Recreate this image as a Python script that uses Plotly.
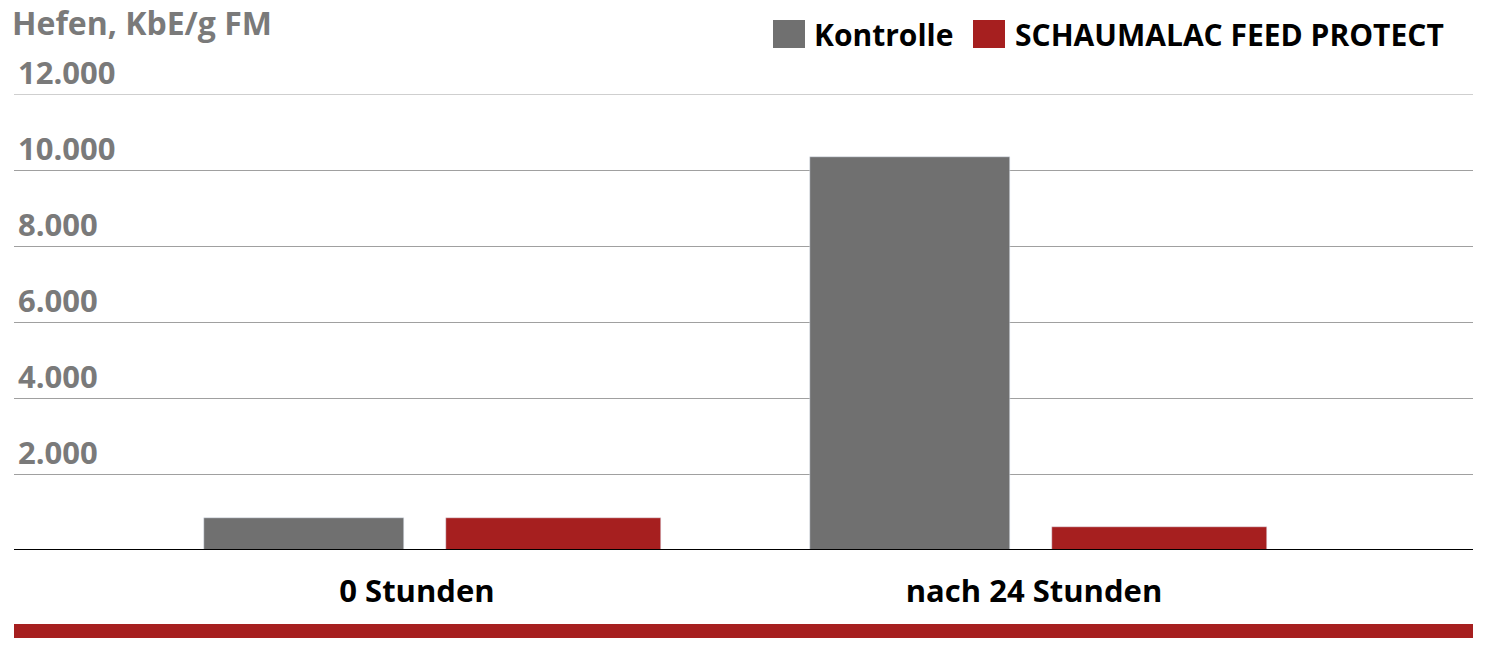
import plotly.graph_objects as go

categories = ["0 Stunden", "nach 24 Stunden"]
kontrolle = [840, 10350]
schaumalac = [830, 600]
y_ticks = [2000, 4000, 6000, 8000, 10000, 12000]
y_tick_labels = ["2.000", "4.000", "6.000", "8.000", "10.000", "12.000"]
series_names = ["Kontrolle", "SCHAUMALAC FEED PROTECT"]

GRAY = "#707070"
RED = "#a61f1f"
FONT = "Open Sans"

# group centres on a pixel-like numeric axis
group_x = [418, 1024]
label_x = [403, 1020]

fig = go.Figure()
fig.add_trace(go.Bar(x=[g - 128 for g in group_x], y=kontrolle, width=200,
                     marker_color=GRAY, name=series_names[0]))
fig.add_trace(go.Bar(x=[g + 121 for g in group_x], y=schaumalac, width=215,
                     marker_color=RED, name=series_names[1]))

for v, t in zip(y_ticks, y_tick_labels):
    fig.add_annotation(x=0, xref="paper", y=v, yref="y", text=t, showarrow=False,
                       xanchor="left", yanchor="bottom", xshift=2, yshift=-1,
                       font=dict(family=FONT, size=31, color="#7a7a7a", weight="bold"))

fig.add_annotation(x=0, xref="paper", y=1, yref="paper", yshift=72, text="Hefen, KbE/g FM",
                   showarrow=False, xanchor="left", yanchor="middle", xshift=-4,
                   font=dict(family=FONT, size=32, color="#7a7a7a", weight="bold"))

# legend drawn by hand (large squares)
PW = 1459.0
PH = 456.0
leg = [(773, 805, 812, GRAY, series_names[0]), (973, 1005, 1013, RED, series_names[1])]
for s0, s1, tx, col, name in leg:
    fig.add_shape(type="rect", xref="paper", yref="paper",
                  x0=(s0 - 14) / PW, x1=(s1 - 14) / PW,
                  y0=1 + (94 - 48) / PH, y1=1 + (94 - 20) / PH,
                  fillcolor=col, line_width=0)
    fig.add_annotation(x=(tx - 14) / PW, xref="paper", y=1 + (94 - 35) / PH, yref="paper",
                       text=name, showarrow=False, xanchor="left", yanchor="middle",
                       font=dict(family=FONT, size=30, color="black", weight="bold"))

fig.add_shape(type="rect", xref="paper", yref="paper", x0=0, x1=1,
              y0=-(624 - 550) / PH, y1=-(638 - 550) / PH, fillcolor=RED, line_width=0)
fig.add_shape(type="line", xref="paper", yref="y", x0=0, x1=1, y0=12000, y1=12000,
              line=dict(color="#a0a0a0", width=1))
fig.add_shape(type="line", xref="paper", yref="y", x0=0, x1=1, y0=0, y1=0,
              line=dict(color="black", width=2))

fig.update_layout(
    width=1488, height=650,
    margin=dict(l=6, r=23, t=86, b=108),
    plot_bgcolor="white", paper_bgcolor="white",
    bargap=0,
    showlegend=False,
    xaxis=dict(range=[0, 1459], tickvals=label_x, ticktext=categories, showgrid=False,
               zeroline=False, ticks="", ticklabelstandoff=20,
               tickfont=dict(family=FONT, size=31, color="black", weight="bold")),
    yaxis=dict(range=[0, 12000], tickvals=y_ticks, showticklabels=False, showgrid=True,
               gridcolor="#a0a0a0", gridwidth=1, zeroline=False),
)

fig.write_html("out.html")
